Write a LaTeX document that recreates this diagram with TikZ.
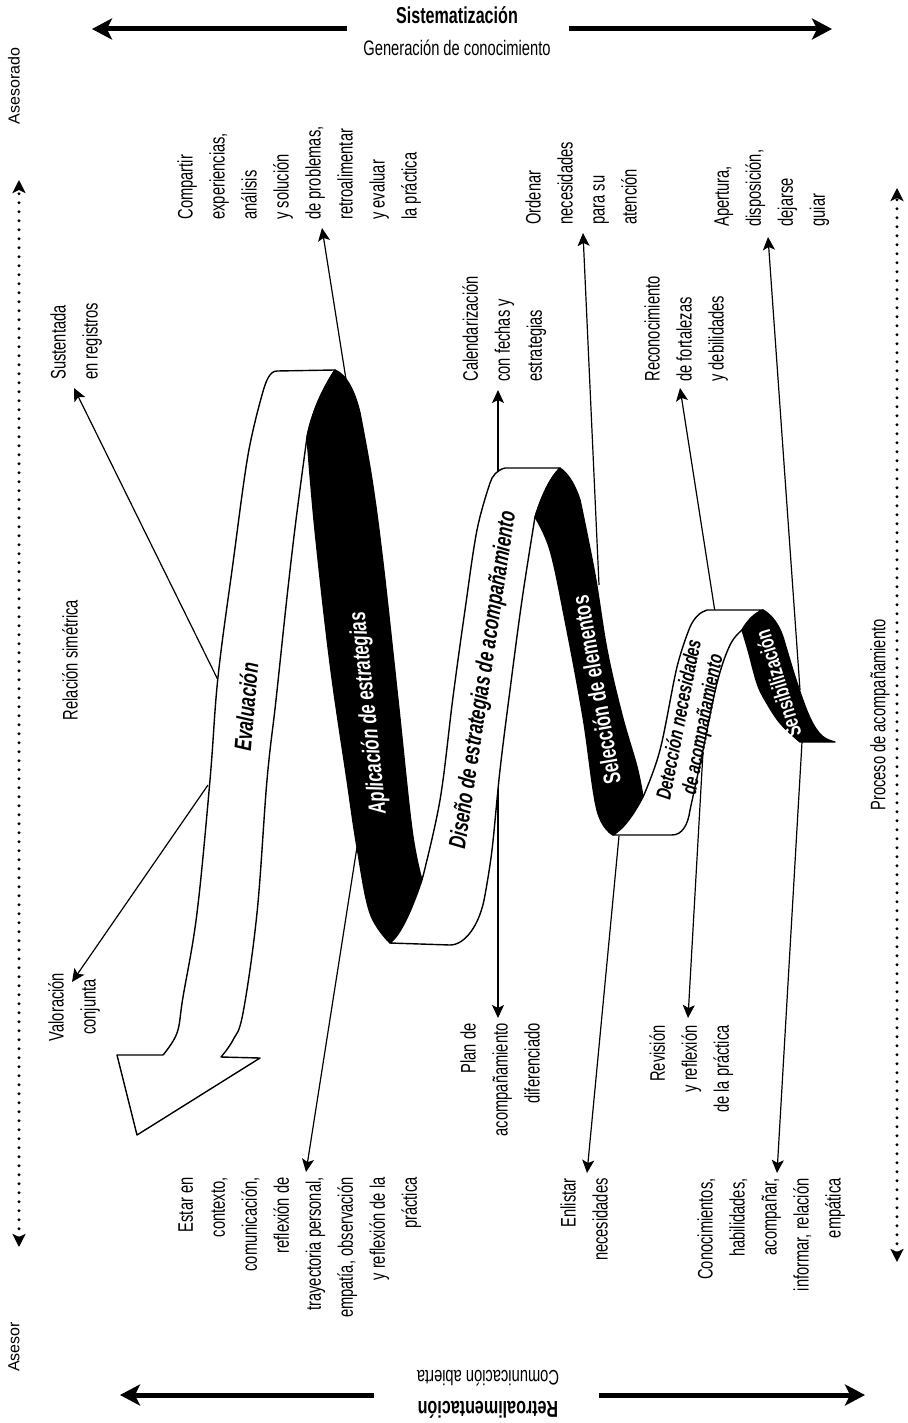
\documentclass[tikz,border=0pt]{standalone}
\usepackage{fontspec}
\setmainfont{Liberation Sans}[FakeStretch=0.7]
\newfontfamily\widesans{Liberation Sans}
\usetikzlibrary{arrows.meta}

\begin{document}
\begin{tikzpicture}[
            x=0.5pt, y=-0.5pt, % one unit is one pixel of the page, y runs downwards
            every node/.style={inner sep=0pt, font=\fontsize{10.5}{16}\selectfont}, % plain labels
            upleft/.style={rotate=90, align=left, anchor=north west}, % read upwards, lines start together
            upright/.style={rotate=90, align=right, anchor=north east}, % read upwards, lines end together
            band/.style={font=\fontsize{12}{14}\selectfont\bfseries\itshape}, % text on the ribbon
            bandup/.style={font=\fontsize{12}{14}\selectfont\bfseries}, % upright text on the ribbon
            rim/.style={line width=0.7pt, line join=round}, % ribbon outline
            pointer/.style={-{Stealth[length=6.5pt,width=6pt,inset=1.5pt]}, line width=0.6pt}, % thin arrows
            bigarrow/.style={-{Stealth[length=10pt,width=10.5pt,inset=2.5pt]}, line width=2.5pt}, % header arrows
            axis/.style={{Stealth[length=6.5pt,width=6.5pt,inset=1.5pt]}-{Stealth[length=6.5pt,width=6.5pt,inset=1.5pt]},
                line width=1.6pt, line cap=round, dash pattern=on 0pt off 4.5pt} % dotted axes
            ]
        \useasboundingbox (0,0) rectangle (907,1423);

        % header and footer
        \node[font=\fontsize{11.5}{13}\selectfont\bfseries] (sistem) at (457,15) {Sistematización};
        \node (generacion) at (457,48) {Generación de conocimiento};
        \node[font=\fontsize{11.5}{13}\selectfont\bfseries, rotate=180] (retro) at (488,1410) {Retroalimentación};
        \node[rotate=180] (comunicacion) at (488,1378) {Comunicación abierta};
        \coordinate (sisL) at (347,29);  \coordinate (sisLtip) at (92,29);
        \coordinate (sisR) at (569,29);  \coordinate (sisRtip) at (832,29);
        \coordinate (retL) at (374,1395); \coordinate (retLtip) at (120,1395);
        \coordinate (retR) at (599,1395); \coordinate (retRtip) at (865,1395);
        \draw[bigarrow] (sisL) -- (sisLtip);
        \draw[bigarrow] (sisR) -- (sisRtip);
        \draw[bigarrow] (retL) -- (retLtip);
        \draw[bigarrow] (retR) -- (retRtip);

        % side axes
        \node[font=\widesans\fontsize{8}{9}\selectfont, rotate=90] (asesorado) at (14,86) {Asesorado};
        \node[font=\widesans\fontsize{8}{9}\selectfont, rotate=90] (asesor) at (14,1347) {Asesor};
        \node[rotate=90] (relacion) at (70,660) {Relación simétrica};
        \node[rotate=90] (proceso) at (880,715) {Proceso de acompañamiento};
        \coordinate (leftTop) at (19,180);   \coordinate (leftBottom) at (19,1247);
        \coordinate (rightTop) at (897,188); \coordinate (rightBottom) at (897,1262);
        \draw[axis] (leftBottom) -- (leftTop);
        \draw[axis] (rightBottom) -- (rightTop);

        % labels above the ribbon
        \node[upleft] (sustentada) at (50,380) {Sustentada\\en registros};
        \node[upleft] (compartir) at (177,220) {Compartir\\experiencias,\\análisis\\y solución\\de problemas,\\retroalimentar\\y evaluar\\la práctica};
        \node[upleft] (calendario) at (462,382) {Calendarización\\con fechas y\\estrategias};
        \node[upleft] (ordenar) at (525,225) {Ordenar\\necesidades\\para su\\atención};
        \node[upleft] (reconoc) at (644,382) {Reconocimiento\\de fortalezas\\y debilidades};
        \node[upleft] (apertura) at (714,227) {Apertura,\\disposición,\\dejarse\\guiar};

        % labels below the ribbon
        \node[rotate=90, align=center] (valoracion) at (74,1007) {Valoración\\conjunta};
        \node[upright] (estar) at (178,1177) {Estar en\\contexto,\\comunicación,\\reflexión de\\trayectoria personal,\\empatía, observación\\y reflexión de la\\práctica};
        \node[upright] (plan) at (460,1023) {Plan de\\acompañamiento\\diferenciado};
        \node[upright] (enlistar) at (560,1178) {Enlistar\\necesidades};
        \node[upright] (revision) at (649,1025) {Revisión\\y reflexión\\de la práctica};
        \node[upright] (conocim) at (697,1178) {Conocimientos,\\habilidades,\\acompañar,\\informar, relación\\empática};

        % points on the ribbon and arrow ends
        \coordinate (evalA) at (218,680);  \coordinate (sustentadaTip) at (74,388);
        \coordinate (evalB) at (208,785);  \coordinate (valoracionTip) at (72,982);
        \coordinate (aplA) at (348,392);   \coordinate (compartirTip) at (322,228);
        \coordinate (aplB) at (357,847);   \coordinate (estarTip) at (306,1172);
        \coordinate (disA) at (498,474);   \coordinate (calendarioTip) at (498,390);
        \coordinate (disB) at (498,745);   \coordinate (planTip) at (498,1018);
        \coordinate (selA) at (599,585);   \coordinate (ordenarTip) at (583,233);
        \coordinate (selB) at (619,836);   \coordinate (enlistarTip) at (587,1173);
        \coordinate (detA) at (715,612);   \coordinate (reconocTip) at (680,388);
        \coordinate (detB) at (703,752);   \coordinate (revisionTip) at (688,1018);
        \coordinate (senA) at (800,690);   \coordinate (aperturaTip) at (768,237);
        \coordinate (senB) at (802,742);   \coordinate (conocimTip) at (777,1173);
        \foreach \from/\to in {evalA/sustentadaTip, evalB/valoracionTip, aplA/compartirTip, aplB/estarTip,
                disA/calendarioTip, disB/planTip, selA/ordenarTip, selB/enlistarTip,
                detA/reconocTip, detB/revisionTip, senA/aperturaTip, senB/conocimTip}
            \draw[pointer] (\from) -- (\to);

        % ribbon: white front ending in the big arrow
        \filldraw[rim, fill=white] (277,371) -- (335,370)
            .. controls (322,390) and (312,412) .. (307,437)
            -- plot[smooth, tension=0.6] coordinates {(307,437) (296,520) (287,597) (276,700) (267,780) (257,913) (243,1013) (233,1040) (221,1057)}
            -- (260,1058) -- (137,1135) -- (117,1055) -- (163,1055)
            -- plot[smooth, tension=0.6] coordinates {(163,1055) (177,1033) (183,997) (197,913) (210,780) (218,677) (233,563) (248,455) (262,395)}
            .. controls (266,380) and (270,371) .. (277,371) -- cycle;
        % black back
        \filldraw[rim, fill=black] (335,370) .. controls (347,375) and (355,392) .. (360,413)
            -- plot[smooth, tension=0.6] coordinates {(360,413) (372,480) (383,563) (398,700) (412,830) (422,880)}
            .. controls (410,915) and (400,935) .. (390,943)
            -- plot[smooth, tension=0.6] coordinates {(390,943) (370,913) (357,847) (347,780) (330,663) (315,530) (307,437)}
            .. controls (312,412) and (322,390) .. (335,370) -- cycle;
        % white front
        \filldraw[rim, fill=white] (390,943) -- (450,945)
            .. controls (465,945) and (480,925) .. (485,895)
            -- plot[smooth, tension=0.6] coordinates {(485,895) (492,850) (500,770) (510,690) (522,600) (535,517)}
            .. controls (542,495) and (550,478) .. (560,468)
            -- (505,468) .. controls (497,470) and (492,476) .. (490,483)
            -- plot[smooth, tension=0.6] coordinates {(490,483) (477,530) (465,610) (453,697) (440,800) (422,880)}
            .. controls (410,915) and (400,935) .. (390,943) -- cycle;
        % black back
        \filldraw[rim, fill=black] (560,468) .. controls (570,475) and (576,488) .. (580,500)
            -- plot[smooth, tension=0.6] coordinates {(580,500) (595,575) (607,650) (622,715) (637,767) (643,797)}
            .. controls (635,812) and (625,828) .. (613,835)
            -- plot[smooth, tension=0.6] coordinates {(613,835) (597,810) (583,717) (565,620) (550,550) (535,517)}
            .. controls (542,495) and (550,478) .. (560,468) -- cycle;
        % white front
        \filldraw[rim, fill=white] (613,835) -- (672,835)
            .. controls (682,835) and (688,825) .. (690,810)
            -- plot[smooth, tension=0.6] coordinates {(690,810) (703,750) (717,683) (730,645) (742,630)}
            .. controls (748,620) and (755,613) .. (763,610)
            -- (707,610) .. controls (700,612) and (694,618) .. (690,627)
            -- plot[smooth, tension=0.6] coordinates {(690,627) (677,667) (660,750) (643,797)}
            .. controls (635,812) and (625,828) .. (613,835) -- cycle;
        % black tail
        \filldraw[rim, fill=black] (763,610) .. controls (772,615) and (779,625) .. (783,637)
            -- plot[smooth, tension=0.6] coordinates {(783,637) (797,683) (810,718) (822,736) (835,742)}
            -- (800,742)
            -- plot[smooth, tension=0.6] coordinates {(800,742) (780,723) (765,700) (757,683) (748,650) (742,630)}
            .. controls (748,620) and (755,613) .. (763,610) -- cycle;

        % stage names on the ribbon
        \node[band, rotate=85] (evaluacion) at (246,707) {Evaluación};
        \node[band, rotate=96, text=white] (aplicacion) at (369,713) {Aplicación de estrategias};
        \node[band, rotate=81.5] (diseno) at (484,680) {Diseño de estrategias de acompañamiento};
        \node[bandup, rotate=100, text=white] (seleccion) at (596,690) {Selección de elementos};
        \node[band, rotate=79, align=center, font=\fontsize{10.5}{12}\selectfont\bfseries\itshape] (deteccion) at (692,722) {Detección necesidades\\de acompañamiento};
        \node[bandup, rotate=107, text=white, font=\fontsize{11}{13}\selectfont\bfseries] (sensib) at (778,684) {Sensibilización};

\end{tikzpicture}
\end{document}
